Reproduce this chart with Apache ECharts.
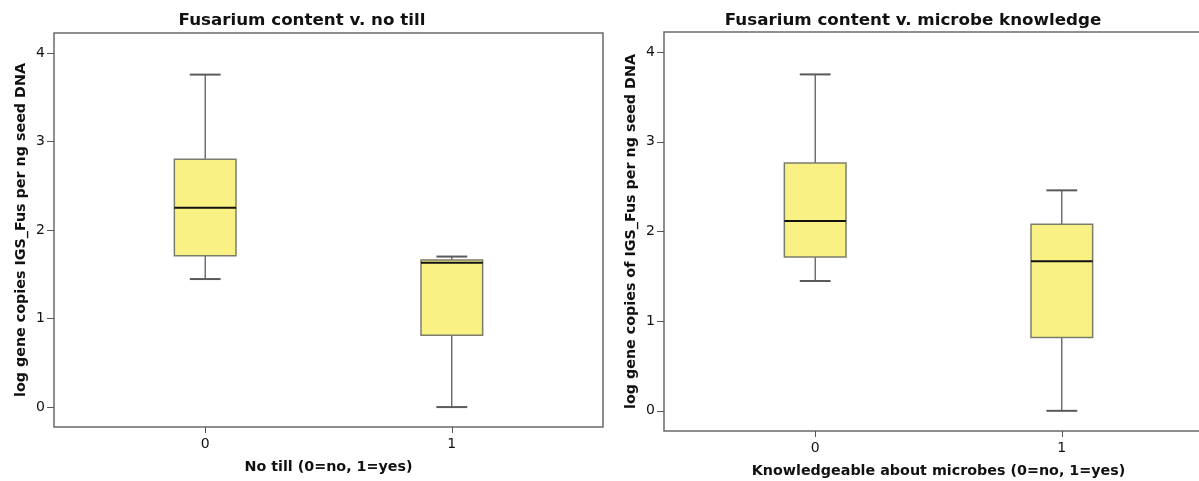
<!DOCTYPE html>
<html>
<head>
<meta charset="utf-8">
<script src="https://cdn.jsdelivr.net/npm/echarts@6/dist/echarts.min.js"></script>
<style>
html,body{margin:0;padding:0;background:#fff;}
#chart{width:1199px;height:481px;}
</style>
</head>
<body>
<div id="chart"></div>
<script>
// ---- data ----
const categories = [0, 1];
const yTicks = [0, 1, 2, 3, 4];
const xTickLabels = ['0', '1'];
// five-number summaries: [min, Q1, median, Q3, max]
const noTillGroup0 = [1.446, 1.71, 2.252, 2.80, 3.755];
const noTillGroup1 = [0.0, 0.81, 1.63, 1.66, 1.70];
const microbeGroup0 = [1.448, 1.716, 2.117, 2.763, 3.752];
const microbeGroup1 = [0.0, 0.818, 1.668, 2.08, 2.459];

const titles = ['Fusarium content v. no till', 'Fusarium content v. microbe knowledge'];
const yNames = ['log gene copies IGS_Fus per ng seed DNA', 'log gene copies of IGS_Fus per ng seed DNA'];
const xNames = ['No till (0=no, 1=yes)', 'Knowledgeable about microbes (0=no, 1=yes)'];

const FONT = 'DejaVu Sans';
const BOX_FRAC = 0.25;

function boxRender(params, api) {
  const x = api.value(0);
  const v = [api.value(1), api.value(2), api.value(3), api.value(4), api.value(5)];
  const p = v.map(val => api.coord([x, val]));
  const cx = p[0][0];
  const w = api.size([BOX_FRAC, 0])[0];
  const hw = w / 2, cw = w / 4;
  const stem = {stroke: '#2a2a2a', lineWidth: 1};
  const cap = {stroke: '#5a5a5a', lineWidth: 2};
  return {
    type: 'group',
    children: [
      {type: 'line', shape: {x1: cx, y1: p[4][1], x2: cx, y2: p[3][1]}, style: stem},
      {type: 'line', shape: {x1: cx, y1: p[0][1], x2: cx, y2: p[1][1]}, style: stem},
      {type: 'line', shape: {x1: cx - cw, y1: p[4][1], x2: cx + cw, y2: p[4][1]}, style: cap},
      {type: 'line', shape: {x1: cx - cw, y1: p[0][1], x2: cx + cw, y2: p[0][1]}, style: cap},
      {type: 'rect', shape: {x: cx - hw, y: p[3][1], width: w, height: p[1][1] - p[3][1]},
        style: {fill: '#F9F184', stroke: '#7c7c6c', lineWidth: 1.5}},
      {type: 'line', shape: {x1: cx - hw, y1: p[2][1], x2: cx + hw, y2: p[2][1]}, style: {stroke: '#111', lineWidth: 2}}
    ]
  };
}

function mk(g0, g1) {
  return [[categories[0]].concat(g0), [categories[1]].concat(g1)];
}

const gridDefs = [
  {left: 54, top: 33, width: 549, height: 394},
  {left: 664, top: 32, width: 549, height: 399}
];

const option = {
  animation: false,
  backgroundColor: '#fff',
  title: [
    {text: titles[0], left: 302, top: 12, padding: 0, textAlign: 'center',
      textStyle: {fontFamily: FONT, fontWeight: 'bold', fontSize: 16.7, color: '#111'}},
    {text: titles[1], left: 913, top: 12, padding: 0, textAlign: 'center',
      textStyle: {fontFamily: FONT, fontWeight: 'bold', fontSize: 16.7, color: '#111'}}
  ],
  grid: gridDefs.map(g => Object.assign({show: true, borderColor: '#6a6a6a', borderWidth: 1.5,
    backgroundColor: 'transparent', containLabel: false, outerBoundsMode: 'none'}, g)),
  xAxis: [0, 1].map(i => ({
    type: 'value', gridIndex: i, min: -0.613, max: 1.613,
    name: xNames[i], nameLocation: 'middle', nameGap: 33,
    nameTextStyle: {fontFamily: FONT, fontWeight: 'bold', fontSize: 14.3, color: '#111'},
    axisLine: {show: false, onZero: false},
    splitLine: {show: false},
    axisTick: {show: true, length: 6, inside: false, customValues: categories, lineStyle: {color: '#555'}},
    axisLabel: {customValues: categories, formatter: v => xTickLabels[categories.indexOf(v)] || '', margin: 10,
      fontFamily: FONT, fontSize: 14, color: '#111'}
  })),
  yAxis: [0, 1].map(i => ({
    type: 'value', gridIndex: i, min: -0.225, max: 4.225,
    name: yNames[i], nameLocation: 'middle', nameGap: 26, nameRotate: 90,
    nameTextStyle: {fontFamily: FONT, fontWeight: 'bold', fontSize: 14.3, color: '#111'},
    axisLine: {show: false, onZero: false},
    splitLine: {show: false},
    axisTick: {show: true, length: 7, inside: false, customValues: yTicks, lineStyle: {color: '#555'}},
    axisLabel: {customValues: yTicks, margin: 9, fontFamily: FONT, fontSize: 14, color: '#111'}
  })),
  series: [
    {type: 'custom', xAxisIndex: 0, yAxisIndex: 0, renderItem: boxRender, clip: false,
      encode: {x: 0, y: [1, 2, 3, 4, 5]}, data: mk(noTillGroup0, noTillGroup1)},
    {type: 'custom', xAxisIndex: 1, yAxisIndex: 1, renderItem: boxRender, clip: false,
      encode: {x: 0, y: [1, 2, 3, 4, 5]}, data: mk(microbeGroup0, microbeGroup1)}
  ]
};

const chart = echarts.init(document.getElementById('chart'), null, {renderer: 'canvas'});
chart.setOption(option);
</script>
</body>
</html>
